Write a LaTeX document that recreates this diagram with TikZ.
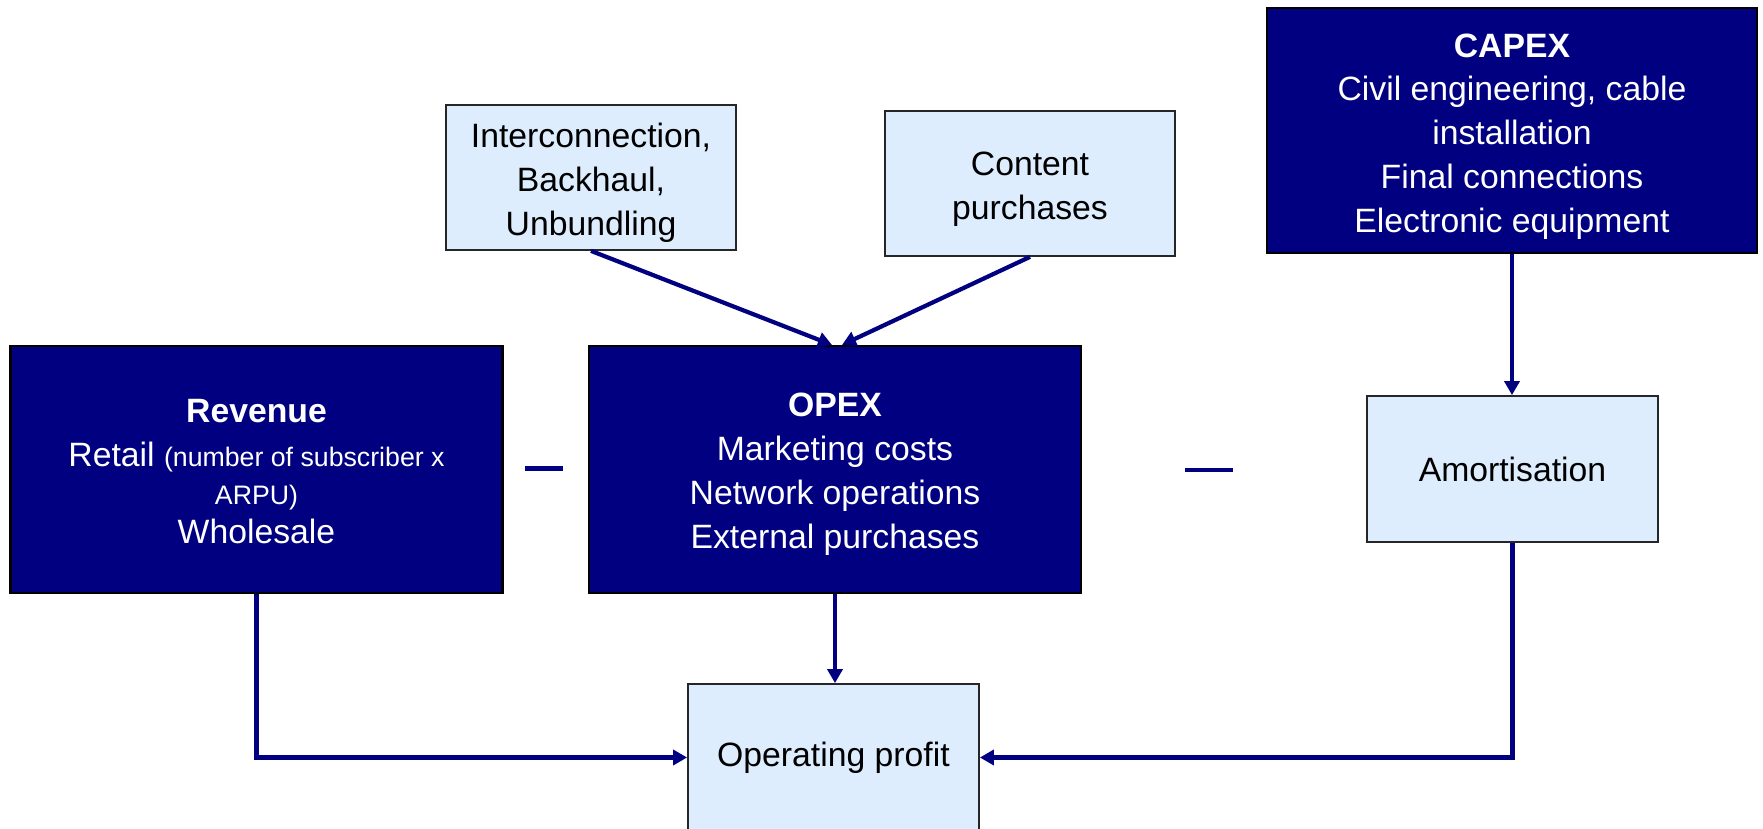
\documentclass[tikz,border=0pt]{standalone}
\usepackage{xcolor}
\usepackage{fontspec}
\setmainfont{Liberation Sans}
\usepackage{tikz}
\usetikzlibrary{arrows.meta}

\definecolor{navy}{RGB}{0,0,128}
\definecolor{paleblue}{RGB}{221,237,253}
\newcommand{\smalltxt}{\fontsize{7.6}{10}\selectfont}
\newcommand{\padtop}[1]{\rule{0pt}{#1}}

\begin{document}
\begin{tikzpicture}[
	font=\fontsize{9.6}{12.5}\selectfont,
	darkbox/.style={rectangle,draw=black,line width=0.6pt,fill=navy,text=white,align=center,inner sep=0pt},
	lightbox/.style={rectangle,draw=black!85,line width=0.5pt,fill=paleblue,text=black,align=center,inner sep=0pt},
	flow/.style={draw=navy,line width=1.2pt},
	>={Triangle[length=0.14cm,width=0.15cm]}
]
	\useasboundingbox (0,0) rectangle (17.63,-8.29);

	\node[darkbox,minimum width=4.92cm,minimum height=2.47cm] (rev) at (2.565,-4.695) {\padtop{7.8pt}\textbf{Revenue}\\ Retail {\smalltxt (number of subscriber x}\\[-1.8pt] {\smalltxt ARPU)}\\[-1.5pt] Wholesale};
	\node[darkbox,minimum width=4.92cm,minimum height=2.47cm] (opex) at (8.35,-4.695) {\padtop{9.2pt}\textbf{OPEX}\\ Marketing costs\\ Network operations\\ External purchases};
	\node[darkbox,minimum width=4.90cm,minimum height=2.45cm] (capex) at (15.12,-1.305) {\padtop{10.2pt}\textbf{CAPEX}\\ Civil engineering, cable\\ installation\\ Final connections\\ Electronic equipment};
	\node[lightbox,minimum width=2.90cm,minimum height=1.45cm] (intcon) at (5.91,-1.775) {\padtop{10.2pt}Interconnection,\\ Backhaul,\\ Unbundling};
	\node[lightbox,minimum width=2.90cm,minimum height=1.45cm] (content) at (10.30,-1.835) {\padtop{10.2pt}Content\\ purchases};
	\node[lightbox,minimum width=2.91cm,minimum height=1.46cm] (amort) at (15.125,-4.69) {Amortisation};
	\node[lightbox,minimum width=2.91cm,minimum height=1.47cm] (profit) at (8.335,-7.575) {Operating profit};

	% minus signs
	\draw[navy,line width=1.3pt] (5.25,-4.685) -- (5.63,-4.685);
	\draw[navy,line width=1.4pt] (11.85,-4.70) -- (12.33,-4.70);

\draw[flow,->] (intcon.south) -- ([xshift=-0.03cm]opex.north);
\draw[flow,->] (content.south) -- ([xshift=0.07cm]opex.north);
\draw[flow,->] (capex.south) -- (capex.south |- amort.north);
\draw[flow,->] (opex.south) -- (opex.south |- profit.north);
\draw[flow,->] (rev.south) |- (profit.west);
\draw[flow,->] (amort.south) |- (profit.east);

\end{tikzpicture}
\end{document}
